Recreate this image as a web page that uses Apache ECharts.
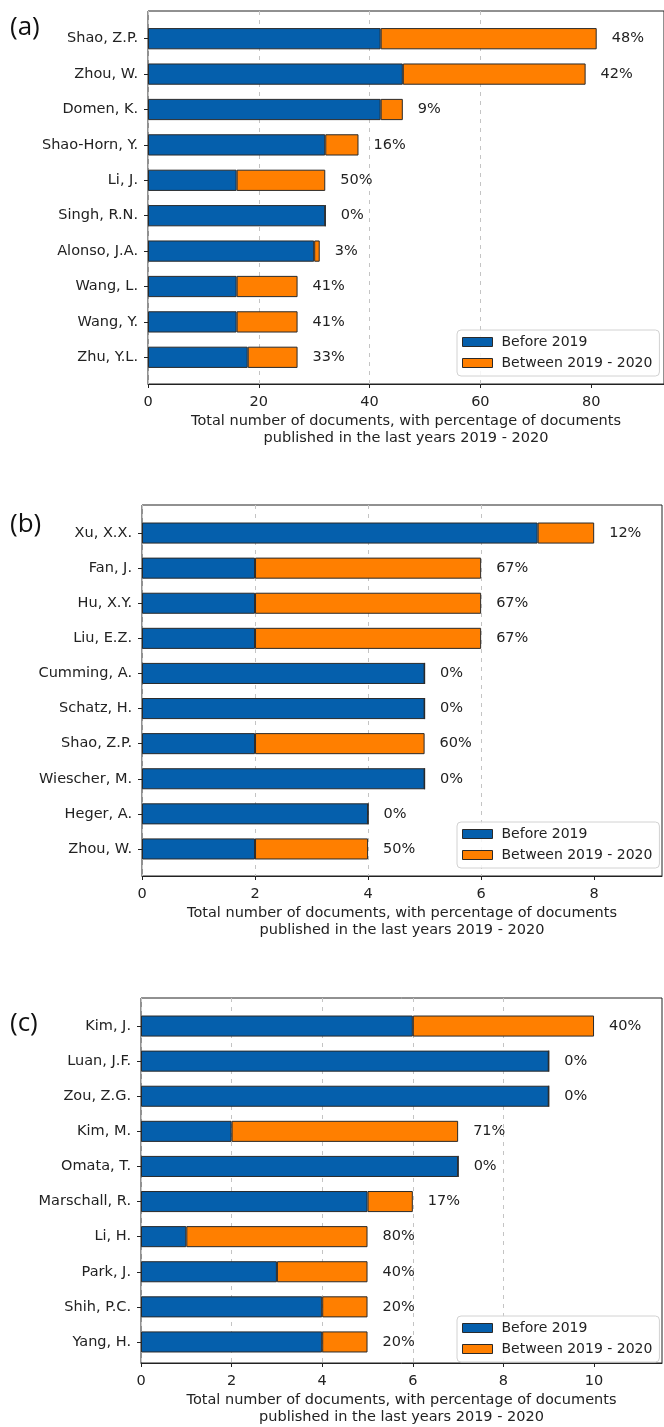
<!DOCTYPE html>
<html>
<head>
<meta charset="utf-8">
<script src="https://cdn.jsdelivr.net/npm/echarts@6/dist/echarts.min.js"></script>
<style>
  html, body { margin: 0; padding: 0; background: #fff; }
  #chart { width: 664px; height: 1427px; }
</style>
</head>
<body>
<div id="chart"></div>
<script>
// Panel (a)
const authorsA = ['Shao, Z.P.', 'Zhou, W.', 'Domen, K.', 'Shao-Horn, Y.', 'Li, J.', 'Singh, R.N.', 'Alonso, J.A.', 'Wang, L.', 'Wang, Y.', 'Zhu, Y.L.'];
const beforeA = [42, 46, 42, 32, 16, 32, 30, 16, 16, 18];
const recentA = [39, 33, 4, 6, 16, 0, 1, 11, 11, 9];
const ticksA = [0, 20, 40, 60, 80];

// Panel (b)
const authorsB = ['Xu, X.X.', 'Fan, J.', 'Hu, X.Y.', 'Liu, E.Z.', 'Cumming, A.', 'Schatz, H.', 'Shao, Z.P.', 'Wiescher, M.', 'Heger, A.', 'Zhou, W.'];
const beforeB = [7, 2, 2, 2, 5, 5, 2, 5, 4, 2];
const recentB = [1, 4, 4, 4, 0, 0, 3, 0, 0, 2];
const ticksB = [0, 2, 4, 6, 8];

// Panel (c)
const authorsC = ['Kim, J.', 'Luan, J.F.', 'Zou, Z.G.', 'Kim, M.', 'Omata, T.', 'Marschall, R.', 'Li, H.', 'Park, J.', 'Shih, P.C.', 'Yang, H.'];
const beforeC = [6, 9, 9, 2, 7, 5, 1, 3, 4, 4];
const recentC = [4, 0, 0, 5, 0, 1, 4, 2, 1, 1];
const ticksC = [0, 2, 4, 6, 8, 10];

const seriesNames = ['Before 2019', 'Between 2019 - 2020'];
const xTitle = 'Total number of documents, with percentage of documents\npublished in the last years 2019 - 2020';

const BLUE = '#055fac';
const ORANGE = '#ff7f00';
const EDGE = '#2a2a2a';
const INK = '#222';
const FONT = 'DejaVu Sans';

// round half to even, as Python's round() does
function pct(part, total) {
  const v = part / total * 100;
  const f = Math.floor(v);
  if (Math.abs(v - f - 0.5) < 1e-9) return f % 2 === 0 ? f : f + 1;
  return Math.round(v);
}

// frame = full axes box, band = the region holding the ten category rows
const panels = [
  { tag: '(a)', tagTop: 31, authors: authorsA, before: beforeA, recent: recentA, ticks: ticksA,
    left: 148, width: 517, frameTop: 11, frameH: 373, bandTop: 21, bandH: 354, legendTop: 330 },
  { tag: '(b)', tagTop: 528, authors: authorsB, before: beforeB, recent: recentB, ticks: ticksB,
    left: 142, width: 520, frameTop: 505, frameH: 371, bandTop: 515.5, bandH: 351, legendTop: 822 },
  { tag: '(c)', tagTop: 1027, authors: authorsC, before: beforeC, recent: recentC, ticks: ticksC,
    left: 141, width: 521, frameTop: 998, frameH: 371, bandTop: 1008.5, bandH: 351, legendTop: 1316 }
];

const grid = [], xAxis = [], yAxis = [], series = [], legend = [], graphic = [];

panels.forEach((p, k) => {
  const totals = p.before.map((b, i) => b + p.recent[i]);
  const xMax = Math.max(...totals) * 1.15;
  const gFrame = grid.length;
  const gBand = gFrame + 1;

  grid.push({ left: p.left, top: p.frameTop, width: p.width, height: p.frameH,
    show: true, borderColor: INK, borderWidth: 1, backgroundColor: 'transparent' });
  grid.push({ left: p.left, top: p.bandTop, width: p.width, height: p.bandH });

  // visible value axis: spine, ticks, labels, dashed grid, title
  xAxis.push({
    type: 'value', gridIndex: gFrame, min: 0, max: xMax, position: 'bottom',
    axisLine: { show: true, lineStyle: { color: INK, width: 1 } },
    axisTick: { show: true, inside: false, length: 4, customValues: p.ticks, lineStyle: { color: INK } },
    axisLabel: { customValues: p.ticks, margin: 11, color: INK, fontFamily: FONT, fontSize: 14.5 },
    splitLine: { show: true, showMaxLine: false, lineStyle: { color: '#c4c4c4', type: [4, 5], width: 1 } },
    name: xTitle, nameLocation: 'middle', nameGap: 29,
    nameTextStyle: { color: INK, fontFamily: FONT, fontSize: 14.5, lineHeight: 17, align: 'center', verticalAlign: 'top' }
  });
  yAxis.push({ type: 'value', gridIndex: gFrame, show: false });

  // axes that position the bars
  xAxis.push({ type: 'value', gridIndex: gBand, min: 0, max: xMax, show: false });
  yAxis.push({
    type: 'category', gridIndex: gBand, data: p.authors, inverse: true,
    axisLine: { show: false },
    axisTick: { show: true, alignWithLabel: true, inside: false, length: 4, lineStyle: { color: INK } },
    axisLabel: { margin: 10, color: INK, fontFamily: FONT, fontSize: 14.5 },
    splitLine: { show: false }
  });

  const axisX = 2 * k + 1, axisY = 2 * k + 1;
  series.push({
    name: seriesNames[0], type: 'bar', stack: 'p' + k, xAxisIndex: axisX, yAxisIndex: axisY,
    data: p.before, barWidth: '60%',
    itemStyle: { color: BLUE, borderColor: EDGE, borderWidth: 1 },
    emphasis: { disabled: true }, animation: false
  });
  series.push({
    name: seriesNames[1], type: 'bar', stack: 'p' + k, xAxisIndex: axisX, yAxisIndex: axisY,
    data: p.recent, barWidth: '60%',
    itemStyle: { color: ORANGE, borderColor: EDGE, borderWidth: 1 },
    label: {
      show: true, position: 'right', distance: 15, color: INK, fontFamily: FONT, fontSize: 14.5,
      formatter: (d) => pct(p.recent[d.dataIndex], totals[d.dataIndex]) + '%'
    },
    emphasis: { disabled: true }, animation: false
  });

  legend.push({
    data: seriesNames, orient: 'vertical', left: 457, top: p.legendTop,
    icon: 'rect', itemWidth: 30, itemHeight: 9, itemGap: 7,
    padding: [5, 7, 6, 5],
    borderColor: '#d2d2d2', borderWidth: 1, borderRadius: 4,
    backgroundColor: 'rgba(255,255,255,0.85)',
    selectedMode: false,
    itemStyle: { borderColor: EDGE, borderWidth: 1 },
    textStyle: { color: INK, fontFamily: FONT, fontSize: 14, padding: [0, 0, 0, 4] }
  });

  graphic.push({
    type: 'text', left: 10, top: p.tagTop - 16,
    style: { text: p.tag, fill: '#111', font: '26px "Open Sans"' }
  });
});

const chart = echarts.init(document.getElementById('chart'), null, { renderer: 'canvas' });
chart.setOption({
  animation: false,
  backgroundColor: '#fff',
  grid, xAxis, yAxis, series, legend, graphic
});
</script>
</body>
</html>
